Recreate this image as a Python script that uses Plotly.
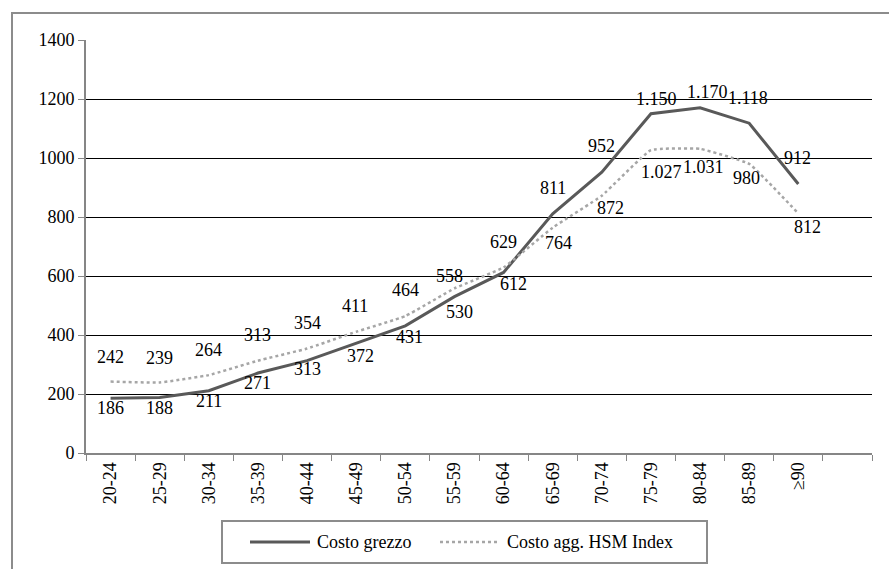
import plotly.graph_objects as go

categories = ["20-24", "25-29", "30-34", "35-39", "40-44", "45-49", "50-54",
              "55-59", "60-64", "65-69", "70-74", "75-79", "80-84", "85-89", "≥90"]
axis_slots = categories + [" "]
costo_grezzo = [186, 188, 211, 271, 313, 372, 431, 530, 612, 811, 952, 1150, 1170, 1118, 912]
costo_hsm = [242, 239, 264, 313, 354, 411, 464, 558, 629, 764, 872, 1027, 1031, 980, 812]
grezzo_text = ["186", "188", "211", "271", "313", "372", "431", "530", "612",
               "811", "952", "1.150", "1.170", "1.118", "912"]
hsm_text = ["242", "239", "264", "313", "354", "411", "464", "558", "629",
            "764", "872", "1.027", "1.031", "980", "812"]
series_names = ["Costo grezzo", "Costo agg. HSM Index"]
y_ticks = [0, 200, 400, 600, 800, 1000, 1200, 1400]

# label offsets in pixels (screen: dx right, dy down)
grezzo_dx = [0, 0, 0, 0, 0, 4, 4, 5, 10, 0, 0, 6, 7, -1, -1]
grezzo_dy = [10, 10, 10, 10, 8, 13, 11, 15, 12, -26, -26, -15, -16, -25, -26]
hsm_dx = [0, 0, 0, 0, 0, -1, 0, -5, 0, 6, 9, 11, 3, -3, 9]
hsm_dy = [-25, -25, -25, -26, -26, -26, -26, -12, -25, 15, 12, 22, 18, 14, 14]

FONT = "Times New Roman, Liberation Serif, DejaVu Serif, serif"
FS = 18
W, H = 889, 569
ML, MR, MT, MB = 86, 17, 40, 116
pw = W - ML - MR
ph = H - MT - MB


def px(x):
    return (x - ML) / pw


def py(y):
    return (H - MB - y) / ph


GREZZO_LINE = dict(color="#595959", width=3)
HSM_LINE = dict(color="#a6a6a6", width=2.5, dash="dot")

fig = go.Figure()
fig.add_trace(go.Scatter(
    x=categories, y=costo_grezzo, mode="lines", name=series_names[0],
    line=GREZZO_LINE, hoverinfo="skip", showlegend=False))
fig.add_trace(go.Scatter(
    x=categories, y=costo_hsm, mode="lines", name=series_names[1],
    line=dict(HSM_LINE, shape="spline", smoothing=0.3),
    hoverinfo="skip", showlegend=False))

annotations = []
for cat, v, t, dx, dy in zip(categories, costo_grezzo, grezzo_text, grezzo_dx, grezzo_dy):
    annotations.append(dict(x=cat, y=v, text=t, showarrow=False, xshift=dx, yshift=-dy,
                            font=dict(family=FONT, size=FS, color="black")))
for cat, v, t, dx, dy in zip(categories, costo_hsm, hsm_text, hsm_dx, hsm_dy):
    annotations.append(dict(x=cat, y=v, text=t, showarrow=False, xshift=dx, yshift=-dy,
                            font=dict(family=FONT, size=FS, color="black")))

shapes = []
# outer chart border
shapes.append(dict(type="rect", xref="paper", yref="paper",
                   x0=px(12), x1=px(W + 10), y0=py(H + 10), y1=py(13),
                   line=dict(color="#8c8c8c", width=2), fillcolor="rgba(0,0,0,0)",
                   layer="below"))
# custom legend box
shapes.append(dict(type="rect", xref="paper", yref="paper",
                   x0=px(222), x1=px(707), y0=py(563), y1=py(521),
                   line=dict(color="#8c8c8c", width=2), fillcolor="white"))
shapes.append(dict(type="line", xref="paper", yref="paper",
                   x0=px(250), x1=px(310), y0=py(542), y1=py(542), line=GREZZO_LINE))
shapes.append(dict(type="line", xref="paper", yref="paper",
                   x0=px(440), x1=px(497), y0=py(542), y1=py(542), line=HSM_LINE))
for name, xpos in zip(series_names, [315, 505]):
    annotations.append(dict(xref="paper", yref="paper", x=px(xpos), y=py(542),
                            xanchor="left", yanchor="middle", text=name, showarrow=False,
                            font=dict(family=FONT, size=FS, color="black")))

fig.update_layout(
    width=W, height=H,
    margin=dict(l=ML, r=MR, t=MT, b=MB, pad=0),
    paper_bgcolor="white", plot_bgcolor="white",
    font=dict(family=FONT, size=FS, color="black"),
    annotations=annotations,
    shapes=shapes,
    showlegend=False,
    xaxis=dict(type="category", categoryarray=axis_slots, categoryorder="array",
               range=[-0.5, 15.5], tickson="boundaries",
               ticks="outside", ticklen=6, tickcolor="#868686", tickwidth=1,
               showline=True, linecolor="#868686", linewidth=2,
               showgrid=False, zeroline=False, tickangle=-90,
               tickfont=dict(family=FONT, size=FS, color="black"),
               fixedrange=True),
    yaxis=dict(range=[0, 1400], tickvals=y_ticks, ticks="outside", ticklen=6,
               tickcolor="#868686", tickwidth=1,
               showline=True, linecolor="#868686", linewidth=2,
               showgrid=True, gridcolor="black", gridwidth=1, zeroline=False,
               tickfont=dict(family=FONT, size=FS, color="black"),
               fixedrange=True),
)

fig.write_html("out.html", config={"displayModeBar": False},
               post_script="document.body.style.margin='0px';")
